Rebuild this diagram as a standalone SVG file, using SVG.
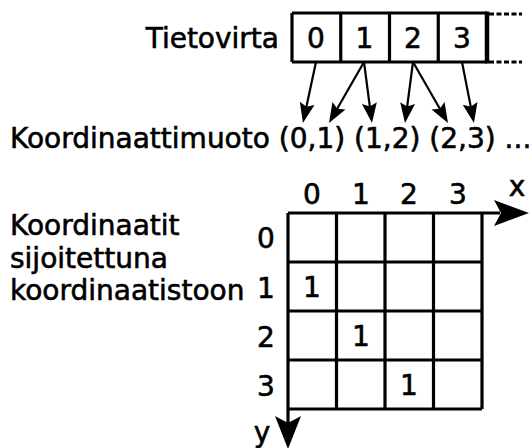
<svg xmlns="http://www.w3.org/2000/svg" width="532" height="448" viewBox="0 0 532 448">
<style>
  text { font-family: "DejaVu Sans", "Liberation Sans", sans-serif; font-size: 28px; fill: #000; stroke: #000; stroke-width: 0.6; }
  .c { text-anchor: middle; }
  .ln { stroke: #000; stroke-width: 3.2; fill: none; }
  .ar { stroke: #000; stroke-width: 2.2; fill: none; marker-end: url(#ah); }
  .dash { stroke: #000; stroke-width: 3; stroke-dasharray: 5 2.5; fill: none; }
</style>
<defs>
  <marker id="ah" markerUnits="userSpaceOnUse" viewBox="-16 -9 24 18" markerWidth="24" markerHeight="18" refX="0" refY="0" orient="auto">
    <path d="M6,0 L-14,-7.5 L-10.5,0 L-14,7.5 Z" fill="#000"/>
  </marker>
</defs>
<rect width="532" height="448" fill="#fff"/>

<g id="stream">
  <text x="279" y="48" text-anchor="end">Tietovirta</text>
  <path class="ln" d="M292,13 H487 M292,62 H487 M292,13 V62 M340.75,13 V62 M389.5,13 V62 M438.25,13 V62"/>
  <path d="M487,11.5 V63.5" stroke="#000" stroke-width="4.5"/>
  <path class="dash" d="M489,14 H522 M489,62 H522"/>
  <text class="c" x="316" y="48">0</text>
  <text class="c" x="364.5" y="48">1</text>
  <text class="c" x="413" y="48">2</text>
  <text class="c" x="462" y="48">3</text>
</g>

<g id="connectors">
  <line class="ar" x1="316" y1="62" x2="304.2" y2="117.1"/>
  <line class="ar" x1="364" y1="62" x2="332" y2="117.8"/>
  <line class="ar" x1="364" y1="62" x2="371.2" y2="117"/>
  <line class="ar" x1="413" y1="62" x2="405.8" y2="117"/>
  <line class="ar" x1="413" y1="62" x2="445" y2="117.8"/>
  <line class="ar" x1="462" y1="62" x2="472.8" y2="117.1"/>
</g>

<g id="coords">
  <text x="10" y="148">Koordinaattimuoto (0,1) (1,2) (2,3) ...</text>
</g>

<g id="label">
  <text x="10" y="235">Koordinaatit</text>
  <text x="10" y="268">sijoitettuna</text>
  <text x="10" y="300">koordinaatistoon</text>
</g>

<g id="grid">
  <path class="ln" d="M288,213 H500 M288,213 V425 M288,262 H482 M288,311 H482 M288,360 H482 M288,409 H482 M336.5,213 V409 M385,213 V409 M433.5,213 V409 M482,213 V409"/>
  <path d="M529,213 L494,200 L501,213 L494,226 Z" fill="#000"/>
  <path d="M288,449 L275,416 L288,423 L301,416 Z" fill="#000"/>
  <text class="c" x="312" y="204">0</text>
  <text class="c" x="361" y="204">1</text>
  <text class="c" x="409" y="204">2</text>
  <text class="c" x="458" y="204">3</text>
  <text class="c" x="517" y="196">x</text>
  <text class="c" x="266" y="248">0</text>
  <text class="c" x="266" y="298">1</text>
  <text class="c" x="266" y="347">2</text>
  <text class="c" x="266" y="396">3</text>
  <text class="c" x="262" y="442">y</text>
  <text class="c" x="312" y="297">1</text>
  <text class="c" x="361" y="346">1</text>
  <text class="c" x="409" y="395">1</text>
</g>
</svg>
